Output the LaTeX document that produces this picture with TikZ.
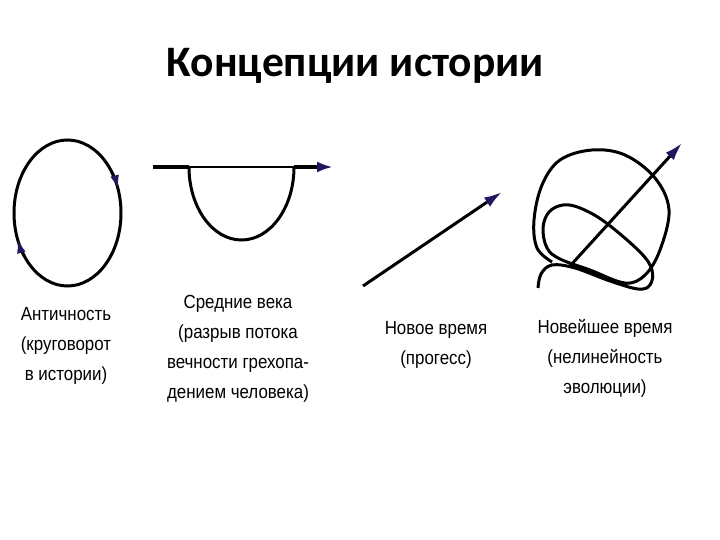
\documentclass[tikz,border=0pt]{standalone}
\usepackage{fontspec}
\setmainfont{Liberation Sans}[FakeStretch=0.89]
\newfontfamily\titlefont{Carlito}
\usetikzlibrary{arrows.meta}
\definecolor{tipblue}{RGB}{30,25,95}
\tikzset{
  curve/.style={line width=3pt},
  dart/.style 2 args={-{Latex[length=#1,width=#2,color=tipblue]}},
  eratext/.style={anchor=north, inner sep=0pt, align=center,
    font=\fontsize{19}{30}\selectfont}
}
\begin{document}
\begin{tikzpicture}[x=1pt,y=-1pt]
  \useasboundingbox (0,0) rectangle (720,540);
  \node[anchor=base, font=\titlefont\bfseries\fontsize{43.5}{52}\selectfont] (title)
    at (355.5,77) {Концепции истории};

  \draw[curve] (67.5,213) ellipse [x radius=53.5, y radius=73];
  \draw[curve, dart={14pt}{9pt}] (67.5,213) ++(-34:53.5 and 73)
    arc[start angle=-34, end angle=-19, x radius=53.5, y radius=73];
  \draw[curve, dart={14pt}{9pt}] (67.5,213) ++(144:53.5 and 73)
    arc[start angle=144, end angle=159, x radius=53.5, y radius=73];

  \coordinate (ms-a) at (153,167);
  \coordinate (ms-b) at (189,167);
  \coordinate (ms-c) at (294,167);
  \coordinate (ms-d) at (333,167);
  \draw[line width=4pt] (ms-a) -- (ms-b);
  \draw[line width=2.5pt] (ms-b) -- (ms-c);
  \draw[line width=4pt, dart={16pt}{11pt}] (ms-c) -- (ms-d);
  \draw[curve] (ms-b) arc[start angle=180, end angle=0, x radius=52.5, y radius=73];

  \coordinate (nt-a) at (363,286);
  \coordinate (nt-b) at (502,192);
  \draw[curve, dart={18pt}{11pt}] (nt-a) -- (nt-b);

  \draw[curve] plot[smooth, tension=0.6] coordinates {
    (538,288) (541,274) (552,265) (575,268) (610,281) (638,289) (650,285)
    (652,270) (640,252) (605,222) (580,208) (563,205) (549,212) (543,228)
    (547,248) (560,259) (590,270) (625,283) (645,275) (660,250) (669,210)
    (655,178) (625,155) (592,150) (560,160) (542,185) (534,220) (537,248)
    (552,262)};
  \coordinate (nw-a) at (570,266);
  \coordinate (nw-b) at (682,143);
  \draw[curve, dart={18pt}{11pt}] (nw-a) -- (nw-b);

  \node[eratext] (antiquity) at (66,307) {Античность\\(круговорот\\в истории)};
  \node[eratext] (middleages) at (238,295)
    {Средние века\\(разрыв потока\\вечности грехопа-\\дением человека)};
  \node[eratext] (modern) at (436,321) {Новое время\\(прогесс)};
  \node[eratext] (contemporary) at (605,319) {Новейшее время\\(нелинейность\\эволюции)};
\end{tikzpicture}
\end{document}
